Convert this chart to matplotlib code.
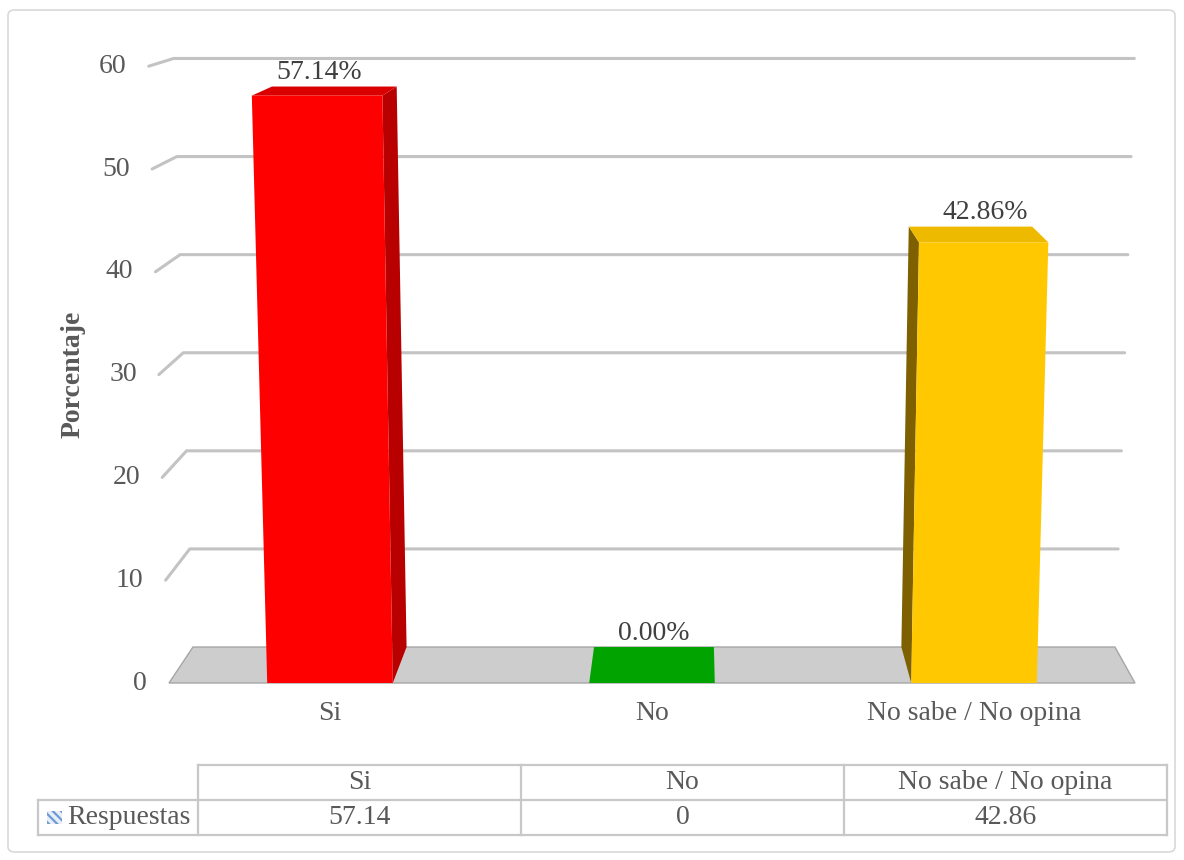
"""
Respuestas por categoría — columna 3D estilo Excel con tabla de datos.
"""
import matplotlib
matplotlib.use("Agg")
import matplotlib.pyplot as plt
from matplotlib.patches import Polygon, Rectangle, FancyBboxPatch

categorias = ["Si", "No", "No sabe / No opina"]
porcentajes = [57.14, 0, 42.86]
serie = "Respuestas"
y_ticks = [0, 10, 20, 30, 40, 50, 60]

col_front = ["#FF0000", "#00A300", "#FFC800"]
col_top = ["#DA0000", "#009A00", "#EDBA00"]
col_side = ["#B80000", "#007A00", "#7F6000"]

W, H = 1184, 860
plt.rcParams["font.family"] = ["Liberation Serif", "DejaVu Serif"]
plt.rcParams["hatch.linewidth"] = 1.6
FS = 20
GRIS = "#595959"

# perspective constants (category units on x, value units on y)
SPREAD = 0.0007     # front plane widens slightly with height
X_ZERO = 1.134      # x where depth adds no horizontal shift
DX_SLOPE = 0.0456
DY0, DY_SLOPE = 3.50, 0.0458
BAR_W = 0.39


def proj(c, v, d):
    x = 1 + (c - 1) * (1 + SPREAD * v)
    y = v
    dx = DX_SLOPE * (X_ZERO - x)
    dy = DY0 - DY_SLOPE * v
    return (x + d * dx, y + d * dy)


def px_box(x0, y0, x1, y1):
    return [x0 / W, 1 - y1 / H, (x1 - x0) / W, (y1 - y0) / H]


fig = plt.figure(figsize=(W / 100, H / 100), dpi=100)
fig.patches.append(FancyBboxPatch((8 / W, 1 - 852 / H), 1167 / W, 842 / H,
                                  boxstyle="round,pad=0,rounding_size=0.006",
                                  transform=fig.transFigure, fill=False,
                                  edgecolor="#D9D9D9", lw=1.2))

ax = fig.add_axes(px_box(100, 30, 1170, 720))
ax.set_xlim((100 - 652) / 322 + 1, (1170 - 652) / 322 + 1)
ax.set_ylim((683 - 720) / 10.28, (683 - 30) / 10.28)
ax.axis("off")

c_lo, c_hi = -0.5, len(categorias) - 0.5

# floor
ax.add_patch(Polygon([proj(c_lo, 0, 0), proj(c_hi, 0, 0),
                      proj(c_hi, 0, 1), proj(c_lo, 0, 1)],
                     closed=True, facecolor="#CDCDCD", edgecolor="#A6A6A6",
                     lw=1.0, zorder=1))

# gridlines: side-wall segment plus back-wall line
for v in y_ticks:
    if v > 0:
        p0, p1, p2 = proj(c_lo, v, 0), proj(c_lo, v, 1), proj(c_hi, v, 1)
        ax.plot([p0[0], p1[0], p2[0]], [p0[1], p1[1], p2[1]],
                color="#C3C3C3", lw=2.2, solid_capstyle="round", zorder=1)
    fx, fy = proj(c_lo, v, 0)
    ax.annotate(str(v), (fx, fy), xytext=(-22, 0), textcoords="offset pixels",
                ha="right", va="center", fontsize=FS, color=GRIS)

# bars
for i, (cat, v) in enumerate(zip(categorias, porcentajes)):
    l, r = i - BAR_W / 2, i + BAR_W / 2
    if i < 1:
        side = [proj(r, 0, 0), proj(r, 0, 1), proj(r, v, 1), proj(r, v, 0)]
    elif i > 1:
        side = [proj(l, 0, 0), proj(l, 0, 1), proj(l, v, 1), proj(l, v, 0)]
    else:
        side = None
    if side is not None and v > 0:
        ax.add_patch(Polygon(side, closed=True, facecolor=col_side[i],
                             edgecolor="none", zorder=3))
    top = [proj(l, v, 0), proj(r, v, 0), proj(r, v, 1), proj(l, v, 1)]
    ax.add_patch(Polygon(top, closed=True,
                         facecolor=col_top[i] if v > 0 else col_front[i],
                         edgecolor="none", zorder=3))
    if v > 0:
        front = [proj(l, 0, 0), proj(r, 0, 0), proj(r, v, 0), proj(l, v, 0)]
        ax.add_patch(Polygon(front, closed=True, facecolor=col_front[i],
                             edgecolor="none", zorder=4))

    # value label above the bar
    lx = proj(i, v, 0)[0]
    ly = proj(i, v, 1)[1]
    ax.annotate(f"{v:.2f}%", (lx, ly), xytext=(2, 14),
                textcoords="offset pixels", ha="center", va="center",
                fontsize=FS, color="#404040", zorder=6)

    # category label under the floor
    ax.annotate(cat, proj(i, 0, 0), xytext=(0, -30),
                textcoords="offset pixels", ha="center", va="center",
                fontsize=FS, color=GRIS)

fig.text(73 / W, 1 - 374 / H, "Porcentaje", rotation=90, ha="center",
         va="center", fontsize=FS, fontweight="bold", color=GRIS)

# data table
tb = fig.add_axes(px_box(30, 758, 1175, 842))
tb.set_xlim((30 - 198) / 323, (1175 - 198) / 323)
tb.set_ylim(-0.2, 2.2)
tb.axis("off")
n = len(categorias)
hdr_l = (38 - 198) / 323
line_kw = dict(color="#C8C8C8", lw=1.6, solid_capstyle="projecting")
tb.plot([0, n], [2, 2], **line_kw)
tb.plot([hdr_l, n], [1, 1], **line_kw)
tb.plot([hdr_l, n], [0, 0], **line_kw)
tb.plot([hdr_l, hdr_l], [0, 1], **line_kw)
for j in range(n + 1):
    tb.plot([j, j], [0, 2], **line_kw)
for j, (cat, v) in enumerate(zip(categorias, porcentajes)):
    tb.text(j + 0.5, 1.5, cat, ha="center", va="center", fontsize=FS,
            color=GRIS)
    tb.text(j + 0.5, 0.5, f"{v:g}", ha="center", va="center", fontsize=FS,
            color=GRIS)
tb.add_patch(Rectangle(((47 - 198) / 323, 0.5 - 0.19), 15 / 323, 0.38,
                       facecolor="#E8EEF8", edgecolor="#6F9BD4",
                       hatch="\\\\\\\\", lw=0))
tb.text(-0.405, 0.5, serie, ha="left", va="center", fontsize=FS, color=GRIS)

fig.savefig("out.png", dpi=100)
